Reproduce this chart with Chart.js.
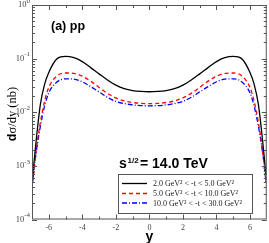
<!DOCTYPE html>
<html>
<head>
<meta charset="utf-8">
<script src="https://cdn.jsdelivr.net/npm/chart.js@4.4.1/dist/chart.umd.min.js"></script>
<style>
  html, body { margin: 0; padding: 0; background: #fff; }
  canvas { display: block; }
</style>
</head>
<body>
<canvas id="chart" width="269" height="243"></canvas>
<script>
// rapidity grid
const rapidity = [-6.95,-6.75,-6.5,-6.25,-6,-5.5,-5,-4.5,-4,-3.5,-3,-2.5,-2,-1.5,-1,-0.5,0,0.5,1,1.5,2,2.5,3,3.5,4,4.5,5,5.5,6,6.25,6.5,6.75,6.95];

// d sigma / dy (nb) for each -t bin
const bin1 = [7e-4,3e-3,0.014,0.033,0.055,0.1,0.11,0.104,0.088,0.068,0.052,0.040,0.032,0.0275,0.0253,0.0244,0.0241,0.0244,0.0253,0.0275,0.032,0.040,0.052,0.068,0.088,0.104,0.11,0.1,0.055,0.033,0.014,3e-3,7e-4];
const bin2 = [5e-4,1.9e-3,6.5e-3,0.016,0.029,0.048,0.054,0.053,0.047,0.038,0.029,0.0225,0.0185,0.0163,0.0152,0.0146,0.0145,0.0146,0.0152,0.0163,0.0185,0.0225,0.029,0.038,0.047,0.053,0.054,0.048,0.029,0.016,6.5e-3,1.9e-3,5e-4];
const bin3 = [5.5e-4,1.8e-3,5.5e-3,0.013,0.023,0.037,0.042,0.0415,0.037,0.030,0.024,0.019,0.016,0.0145,0.0137,0.0133,0.0132,0.0133,0.0137,0.0145,0.016,0.019,0.024,0.030,0.037,0.0415,0.042,0.037,0.023,0.013,5.5e-3,1.8e-3,5.5e-4];

const legendLabels = ['2.0 GeV² < -t < 5.0 GeV²', '5.0 GeV² < -t < 10.0 GeV²', '10.0 GeV² < -t < 30.0 GeV²'];
const xTicks = [-6, -4, -2, 0, 2, 4, 6];
const yTicks = [1e-4, 1e-3, 1e-2, 1e-1, 1];
const yTickExp = ['-4', '-3', '-2', '-1', '0'];

const SERIF = '"Liberation Serif", "Times New Roman", serif';
const SANS = '"Liberation Sans", Arial, sans-serif';

const toPts = arr => rapidity.map((x, i) => ({ x, y: arr[i] }));

const frame = {
  id: 'frame',
  afterDatasetsDraw(chart) {
    const { ctx, chartArea: a, scales: { x, y } } = chart;
    ctx.save();
    ctx.strokeStyle = '#555';
    ctx.lineWidth = 1;
    ctx.strokeRect(a.left + 0.5, a.top + 0.5, a.right - a.left - 1, a.bottom - a.top - 1);

    // x ticks, both sides
    ctx.beginPath();
    for (let v = -6; v <= 6; v++) {
      const px = Math.round(x.getPixelForValue(v)) + 0.5;
      const len = v % 2 === 0 ? 5 : 3;
      ctx.moveTo(px, a.bottom); ctx.lineTo(px, a.bottom - len);
      ctx.moveTo(px, a.top); ctx.lineTo(px, a.top + len);
    }
    // y ticks, log minors
    for (let e = -4; e <= 0; e++) {
      for (let m = 1; m <= 9; m++) {
        const v = m * Math.pow(10, e);
        if (v > 1) break;
        const py = Math.round(y.getPixelForValue(v)) + 0.5;
        const len = m === 1 ? 5 : 3;
        ctx.moveTo(a.left, py); ctx.lineTo(a.left + len, py);
        ctx.moveTo(a.right, py); ctx.lineTo(a.right - len, py);
      }
    }
    ctx.stroke();

    // y tick labels 10^n
    ctx.fillStyle = '#444';
    ctx.textBaseline = 'middle';
    yTicks.forEach((v, i) => {
      const py = y.getPixelForValue(v);
      ctx.font = '7px ' + SERIF;
      const sw = ctx.measureText(yTickExp[i]).width;
      ctx.textAlign = 'right';
      ctx.fillText(yTickExp[i], 30, py - 4);
      ctx.font = '8.5px ' + SERIF;
      ctx.fillText('10', 30 - sw, py);
    });

    // y axis title
    ctx.save();
    ctx.translate(13, 114);
    ctx.rotate(-Math.PI / 2);
    ctx.fillStyle = '#000';
    ctx.textBaseline = 'middle';
    ctx.textAlign = 'left';
    ctx.font = 'bold 12.5px ' + SANS;
    const dW = ctx.measureText('d').width;
    ctx.font = '12.5px ' + SERIF;
    const rW = ctx.measureText('σ/dy (nb)').width;
    const x0 = -(dW + rW) / 2;
    ctx.font = 'bold 12.5px ' + SANS;
    ctx.fillText('d', x0, 0);
    ctx.font = '12.5px ' + SERIF;
    ctx.fillText('σ/dy (nb)', x0 + dW, 0);
    ctx.restore();

    // x axis title
    ctx.fillStyle = '#000';
    ctx.textAlign = 'center';
    ctx.textBaseline = 'alphabetic';
    ctx.font = 'bold 14px ' + SANS;
    ctx.fillText('y', x.getPixelForValue(0), 241);

    // panel label
    ctx.textAlign = 'left';
    ctx.font = 'bold 12.5px ' + SANS;
    ctx.fillText('(a) pp', 51, 30);

    // energy
    ctx.font = 'bold 14px ' + SANS;
    ctx.fillText('s', 119, 168);
    ctx.font = 'bold 8px ' + SANS;
    ctx.fillText('1/2', 127.5, 163);
    ctx.font = 'bold 14px ' + SANS;
    ctx.fillText('= 14.0 TeV', 140, 168);

    // legend
    ctx.fillStyle = '#fff';
    ctx.fillRect(118, 174, 134, 39);
    ctx.strokeStyle = '#555';
    ctx.strokeRect(118.5, 174.5, 134, 39);
    const rows = [183.5, 193.5, 203];
    chart.data.datasets.forEach((ds, i) => {
      ctx.strokeStyle = ds.borderColor;
      ctx.lineWidth = ds.borderWidth;
      ctx.setLineDash(ds.borderDash || []);
      ctx.beginPath();
      ctx.moveTo(122, rows[i]); ctx.lineTo(147, rows[i]);
      ctx.stroke();
      ctx.setLineDash([]);
      ctx.fillStyle = '#222';
      ctx.font = '8px ' + SERIF;
      ctx.textBaseline = 'middle';
      ctx.fillText(legendLabels[i], 153, rows[i] + 0.5);
    });
    ctx.restore();
  }
};

new Chart(document.getElementById('chart'), {
  type: 'line',
  data: {
    datasets: [
      { label: legendLabels[0], data: toPts(bin1), borderColor: '#000', borderWidth: 1.3, pointRadius: 0, cubicInterpolationMode: 'monotone' },
      { label: legendLabels[1], data: toPts(bin2), borderColor: '#ff0000', borderWidth: 1.3, borderDash: [4, 3], pointRadius: 0, cubicInterpolationMode: 'monotone' },
      { label: legendLabels[2], data: toPts(bin3), borderColor: '#0000ff', borderWidth: 1.3, borderDash: [5, 2, 1, 2], pointRadius: 0, cubicInterpolationMode: 'monotone' }
    ]
  },
  options: {
    responsive: false, animation: false, devicePixelRatio: 1,
    layout: { padding: { top: 5, right: 2.25, left: 0, bottom: 0 } },
    plugins: { legend: { display: false }, tooltip: { enabled: false } },
    scales: {
      x: {
        type: 'linear', min: -7, max: 7,
        afterBuildTicks: s => { s.ticks = xTicks.map(v => ({ value: v })); },
        afterFit: s => { s.height = 23.5; },
        grid: { display: false, drawTicks: false },
        border: { display: false },
        ticks: { color: '#444', padding: 4, maxRotation: 0, font: { family: SERIF, size: 8 }, callback: v => String(v) }
      },
      y: {
        type: 'logarithmic', min: 1e-4, max: 1,
        afterBuildTicks: s => { s.ticks = yTicks.map(v => ({ value: v })); },
        afterFit: s => { s.width = 32; },
        grid: { display: false, drawTicks: false },
        border: { display: false },
        ticks: { display: false }
      }
    }
  },
  plugins: [frame]
});
</script>
</body>
</html>
